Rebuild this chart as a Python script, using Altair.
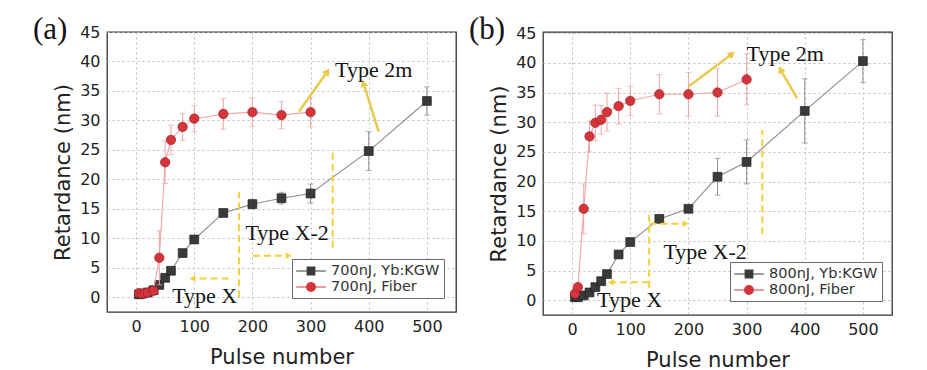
import altair as alt
import pandas as pd

# ---------------- data ----------------
# panel (a) 700 nJ
xa_k = [5, 10, 20, 30, 40, 50, 60, 80, 100, 150, 200, 250, 300, 400, 500]
ya_k = [0.5, 0.6, 0.8, 1.2, 2.1, 3.3, 4.5, 7.5, 9.8, 14.3, 15.8, 16.8, 17.6, 24.8, 33.3]
ea_k = [0.2, 0.2, 0.2, 0.3, 0.3, 0.3, 0.3, 0.4, 0.4, 0.5, 0.8, 1.0, 1.6, 3.3, 2.4]
xa_f = [5, 10, 15, 20, 30, 40, 50, 60, 80, 100, 150, 200, 250, 300]
ya_f = [0.7, 0.6, 0.7, 0.8, 1.1, 6.7, 22.9, 26.7, 28.9, 30.3, 31.1, 31.4, 30.9, 31.4]
ea_f = [0.3, 0.3, 0.3, 0.3, 0.4, 4.6, 3.6, 2.5, 2.3, 2.2, 2.6, 2.4, 2.3, 2.5]
names_a = ["700nJ, Yb:KGW", "700nJ, Fiber"]

# panel (b) 800 nJ
xb_k = [5, 10, 20, 30, 40, 50, 60, 80, 100, 150, 200, 250, 300, 400, 500]
yb_k = [0.5, 0.5, 0.8, 1.3, 2.2, 3.2, 4.4, 7.7, 9.8, 13.7, 15.4, 20.8, 23.3, 31.9, 40.3]
eb_k = [0.2, 0.2, 0.2, 0.3, 0.3, 0.3, 0.3, 0.4, 0.4, 0.5, 0.6, 3.1, 3.7, 5.4, 3.6]
xb_f = [5, 10, 20, 30, 40, 50, 60, 80, 100, 150, 200, 250, 300]
yb_f = [1.1, 2.2, 15.4, 27.6, 29.9, 30.4, 31.7, 32.7, 33.6, 34.7, 34.7, 35.0, 37.2]
eb_f = [0.4, 0.5, 4.2, 2.6, 3.0, 2.4, 3.2, 3.0, 2.5, 3.3, 3.7, 4.0, 4.3]
names_b = ["800nJ, Yb:KGW", "800nJ, Fiber"]

# annotations (data coordinates)
# vertical dashed lines: x, y_from, y_to
vd_a = [(177, 0.0, 17.8), (338, 8.4, 25.1)]
vd_b = [(132.5, 2.1, 14.4), (327, 11.1, 28.7)]
# dashed horizontal arrows: x_from, x_to, y, head angle
ha_a = [(159, 97, 3.2, 270), (201, 262, 7.05, 90)]
ha_b = [(132, 67, 3.0, 270), (133, 195, 12.9, 90)]
# solid arrows: x_from, y_from, x_to, y_to, head angle
sa_a = [(280, 31.5, 329, 38.3, 36), (417, 28.1, 391, 36.3, 343)]
sa_b = [(200, 36.0, 275, 41.5, 53), (387, 34.0, 358, 38.9, 330)]
# text labels: text, x (left), y (baseline)
tx_a = [("Type X", 62, -1.0), ("Type X-2", 188, 9.7), ("Type 2m", 342, 37.4)]
tx_b = [("Type X", 43, -1.1), ("Type X-2", 157, 7.0), ("Type 2m", 300, 40.3)]

x_ticks = [0, 100, 200, 300, 400, 500]
y_ticks = [0, 5, 10, 15, 20, 25, 30, 35, 40, 45]

K_DARK, K_LINE = "#3a3a3a", "#8c8c8c"
R_DARK, R_LINE = "#d3353b", "#f0a2a5"
YEL_D, YEL_S = "#f3d034", "#e9c94e"

# legend symbols: a line with a marker on it (unit square scaled by sqrt(size)/2 = 8px)
SQ = "M-1.85,-0.065H1.85V0.065H-1.85Z M-0.55,-0.55H0.55V0.55H-0.55Z"
CI = ("M-1.85,-0.065H1.85V0.065H-1.85Z M-0.62,0A0.62,0.62 0 1,1 0.62,0"
      "A0.62,0.62 0 1,1 -0.62,0Z")


def panel(label, xk, yk, ek, xf, yf, ef, names, vd, ha, sa, tx, lx, ly, h, ytop):
    xs = alt.Scale(domain=[-50, 550], nice=False, zero=False)
    ys = alt.Scale(domain=[-2.5, ytop], nice=False, zero=False)
    xax = alt.Axis(values=x_ticks, title="Pulse number", grid=True,
                   labelPadding=6, titlePadding=12)
    yax = alt.Axis(values=y_ticks, title="Retardance (nm)", grid=True,
                   labelPadding=7, titlePadding=6)

    def X(f):
        return alt.X(f, type="quantitative", scale=xs, axis=xax)

    def Y(f):
        return alt.Y(f, type="quantitative", scale=ys, axis=yax)

    dk = pd.DataFrame({"x": xk, "y": yk, "e": ek})
    dfb = pd.DataFrame({"x": xf, "y": yf, "e": ef})
    for d in (dk, dfb):
        d["lo"] = d["y"] - d["e"]
        d["hi"] = d["y"] + d["e"]

    layers = []
    for d, lc, pc, shp, sc in ((dk, K_LINE, K_DARK, "square", "#222222"),
                               (dfb, R_LINE, R_DARK, "circle", "#9e1f25")):
        b = alt.Chart(d)
        layers.append(b.mark_rule(color=lc, strokeWidth=1).encode(
            x=X("x"), y=Y("lo"), y2="hi"))
        layers.append(b.mark_tick(color=lc, orient="horizontal", size=6,
                                  thickness=1).encode(x=X("x"), y=Y("lo")))
        layers.append(b.mark_tick(color=lc, orient="horizontal", size=6,
                                  thickness=1).encode(x=X("x"), y=Y("hi")))
        layers.append(b.mark_line(color=lc, strokeWidth=1.1).encode(
            x=X("x"), y=Y("y")))
        layers.append(b.mark_point(shape=shp, filled=True, fill=pc, stroke=sc,
                                   strokeWidth=0.7, opacity=1,
                                   size=78 if shp == "square" else 88).encode(
            x=X("x"), y=Y("y")))

    # annotations
    dvd = pd.DataFrame(vd, columns=["x", "y", "y2"])
    layers.append(alt.Chart(dvd).mark_rule(color=YEL_D, strokeWidth=2,
                                           strokeDash=[7, 4]).encode(
        x=X("x"), y=Y("y"), y2="y2"))
    dha = pd.DataFrame(ha, columns=["x", "x2", "y", "a"])
    layers.append(alt.Chart(dha).mark_rule(color=YEL_D, strokeWidth=2,
                                           strokeDash=[7, 4]).encode(
        x=X("x"), x2="x2", y=Y("y")))
    layers.append(alt.Chart(dha).mark_point(shape="triangle-up", filled=True,
                                            color=YEL_D, size=45, opacity=1).encode(
        x=X("x2"), y=Y("y"), angle=alt.Angle("a:Q", scale=None)))
    dsa = pd.DataFrame(sa, columns=["x", "y", "x2", "y2", "a"])
    layers.append(alt.Chart(dsa).mark_rule(color=YEL_S, strokeWidth=2.5).encode(
        x=X("x"), y=Y("y"), x2="x2", y2="y2"))
    layers.append(alt.Chart(dsa).mark_point(shape="triangle-up", filled=True,
                                            color=YEL_S, size=70, opacity=1).encode(
        x=X("x2"), y=Y("y2"), angle=alt.Angle("a:Q", scale=None)))
    dtx = pd.DataFrame(tx, columns=["t", "x", "y"])
    layers.append(alt.Chart(dtx).mark_text(align="left", baseline="alphabetic",
                                           font="Liberation Serif", fontSize=22,
                                           color="#141414").encode(
        x=X("x"), y=Y("y"), text="t:N"))

    # legend (drawn by the library from an invisible layer)
    leg = alt.Legend(title=None, orient="none", legendX=lx, legendY=ly,
                     symbolSize=256, symbolStrokeWidth=0, symbolOpacity=1,
                     symbolOffset=7, labelOffset=12,
                     labelFont="DejaVu Sans", labelFontSize=14.5,
                     labelColor="#333333",
                     strokeColor="#6a6a6a", fillColor="white", padding=4,
                     rowPadding=1)
    dl = pd.DataFrame({"s": names, "x": [0, 0], "y": [0, 0]})
    layers.append(alt.Chart(dl).mark_point(filled=True, opacity=0, size=256).encode(
        x=X("x"), y=Y("y"),
        color=alt.Color("s:N", scale=alt.Scale(domain=names,
                                               range=[K_DARK, R_DARK]), legend=leg),
        shape=alt.Shape("s:N", scale=alt.Scale(domain=names, range=[SQ, CI]),
                        legend=leg)))

    # panel label
    dlab = pd.DataFrame({"t": [label]})
    layers.append(alt.Chart(dlab).mark_text(align="left", baseline="top",
                                            font="Liberation Serif", fontSize=31,
                                            color="#141414").encode(
        x=alt.value(-74), y=alt.value(-17), text="t:N"))

    return alt.layer(*layers).properties(width=349, height=h)


pa = panel("(a)", xa_k, ya_k, ea_k, xa_f, ya_f, ea_f, names_a,
           vd_a, ha_a, sa_a, tx_a, 185, 227, 280, 45)
pb = panel("(b)", xb_k, yb_k, eb_k, xb_f, yb_f, eb_f, names_b,
           vd_b, ha_b, sa_b, tx_b, 187, 230, 283, 45.2)

chart = alt.hconcat(pa, pb, spacing=11).resolve_scale(
    x="independent", y="independent", color="independent", shape="independent"
).properties(
    padding={"left": 24, "top": 5, "right": 5, "bottom": 0},
    background="white"
).configure_view(
    stroke="#333333", strokeWidth=1.3
).configure_axis(
    domain=False, ticks=False, gridColor="#bdbdbd", gridDash=[2, 3], gridWidth=1,
    labelFont="DejaVu Sans", labelFontSize=16, labelColor="#222222",
    titleFont="DejaVu Sans", titleFontSize=21, titleFontWeight="normal",
    titleColor="#222222"
)

chart.save("out.html", embed_options={"renderer": "svg", "actions": False})
